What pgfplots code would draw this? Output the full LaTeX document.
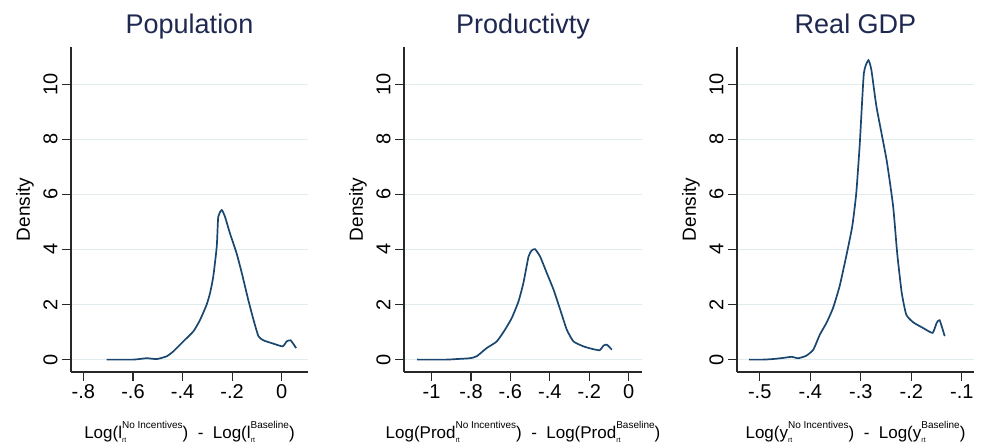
\documentclass[border=0pt]{standalone}
\usepackage{pgfplots}
\pgfplotsset{compat=1.18}
\usepackage{fontspec}
\setmainfont{Liberation Sans}
\definecolor{statanavy}{RGB}{26,71,111}
\definecolor{titlecol}{RGB}{30,40,80}
\definecolor{gridcol}{RGB}{226,236,239}
\definecolor{axiscol}{RGB}{40,40,40}
\newcommand\supsub[2]{\rlap{\raisebox{-0.45ex}{\fontsize{7}{7}\selectfont #2}}\raisebox{1.2ex}{\fontsize{10}{10}\selectfont #1}}
\pgfplotsset{
  dens/.style={color=statanavy, line width=1.7pt, no marks, smooth, tension=0.3},
  panel/.style={
    scale only axis,
    anchor=south west,
    height=325pt,
    axis lines=left,
    axis line style={-, line width=1.4pt, color=axiscol},
    tick align=outside,
    major tick length=9pt,
    tick style={line width=1.2pt, color=axiscol},
    ymin=-0.45, ymax=11.35,
    ytick={0,2,4,6,8,10},
    yticklabels={0,2,4,6,8,10},
    yticklabel style={rotate=90, anchor=south, font=\fontsize{20}{22}\selectfont, yshift=1pt},
    xticklabel style={font=\fontsize{20}{22}\selectfont},
    ymajorgrids,
    major grid style={color=gridcol, line width=1.2pt},
    every axis title/.style={at={(axis description cs:0.5,1)}, anchor=base, yshift=13pt, font=\fontsize{27}{30}\selectfont, color=titlecol},
    every axis x label/.style={at={(axis description cs:0.5,0)}, anchor=center, yshift=-60pt, font=\fontsize{17}{19}\selectfont},
    every axis y label/.style={at={(axis description cs:0,0.5)}, anchor=center, xshift=-46pt, rotate=90, font=\fontsize{19}{21}\selectfont},
    ylabel={Density},
  }
}
\begin{document}
\begin{tikzpicture}
\useasboundingbox (0,0) rectangle (989pt,443pt);
\begin{axis}[panel, at={(71pt,71pt)}, width=237pt,
  xmin=-0.85, xmax=0.106,
  xtick={-0.8,-0.6,-0.4,-0.2,0}, xticklabels={-.8,-.6,-.4,-.2,0},
  title={Population},
  xlabel={Log(l\supsub{No Incentives}{rt}) \ - \ Log(l\supsub{Baseline}{rt})}]
\addplot[dens] coordinates {
(-0.706,0) (-0.598,0) (-0.545,0.05) (-0.504,0.02) (-0.464,0.12) (-0.437,0.30)
(-0.397,0.66) (-0.356,1.03) (-0.330,1.43) (-0.303,1.99) (-0.289,2.42) (-0.276,3.02)
(-0.262,4.11) (-0.256,5.19) (-0.242,5.43) (-0.229,5.19) (-0.209,4.59) (-0.182,3.86)
(-0.161,3.14) (-0.135,2.17) (-0.114,1.45) (-0.094,0.85) (-0.074,0.70) (-0.034,0.58)
(0.004,0.48) (0.020,0.66) (0.036,0.70) (0.058,0.42)
};
\end{axis}
\begin{axis}[panel, at={(404pt,71pt)}, width=238pt,
  xmin=-1.14, xmax=0.068,
  xtick={-1,-0.8,-0.6,-0.4,-0.2,0}, xticklabels={-1,-.8,-.6,-.4,-.2,0},
  title={Productivty},
  xlabel={Log(Prod\supsub{No Incentives}{rt}) \ - \ Log(Prod\supsub{Baseline}{rt})}]
\addplot[dens] coordinates {
(-1.073,0) (-0.924,0) (-0.873,0.02) (-0.805,0.05) (-0.771,0.12) (-0.720,0.42)
(-0.669,0.66) (-0.627,1.09) (-0.593,1.51) (-0.559,2.11) (-0.534,2.78) (-0.508,3.74)
(-0.492,3.96) (-0.475,4.01) (-0.449,3.74) (-0.415,3.14) (-0.381,2.54) (-0.347,1.81)
(-0.314,1.09) (-0.280,0.66) (-0.229,0.48) (-0.186,0.39) (-0.147,0.34) (-0.127,0.51)
(-0.110,0.54) (-0.085,0.36)
};
\end{axis}
\begin{axis}[panel, at={(737pt,71pt)}, width=237pt,
  xmin=-0.545, xmax=-0.076,
  xtick={-0.5,-0.4,-0.3,-0.2,-0.1}, xticklabels={-.5,-.4,-.3,-.2,-.1},
  title={Real GDP},
  xlabel={Log(y\supsub{No Incentives}{rt}) \ - \ Log(y\supsub{Baseline}{rt})}]
\addplot[dens] coordinates {
(-0.521,0) (-0.493,0) (-0.474,0.02) (-0.454,0.06) (-0.437,0.10) (-0.424,0.05)
(-0.408,0.14) (-0.394,0.36) (-0.381,0.91) (-0.368,1.33) (-0.355,1.87) (-0.342,2.66)
(-0.329,3.74) (-0.317,4.83) (-0.309,6.04) (-0.302,7.85) (-0.294,10.39) (-0.285,10.87)
(-0.279,10.51) (-0.269,9.18) (-0.249,7.25) (-0.236,5.56) (-0.228,3.86) (-0.219,2.42)
(-0.210,1.63) (-0.196,1.35) (-0.177,1.15) (-0.158,0.97) (-0.150,1.33) (-0.144,1.43)
(-0.134,0.85)
};
\end{axis}
\end{tikzpicture}
\end{document}
